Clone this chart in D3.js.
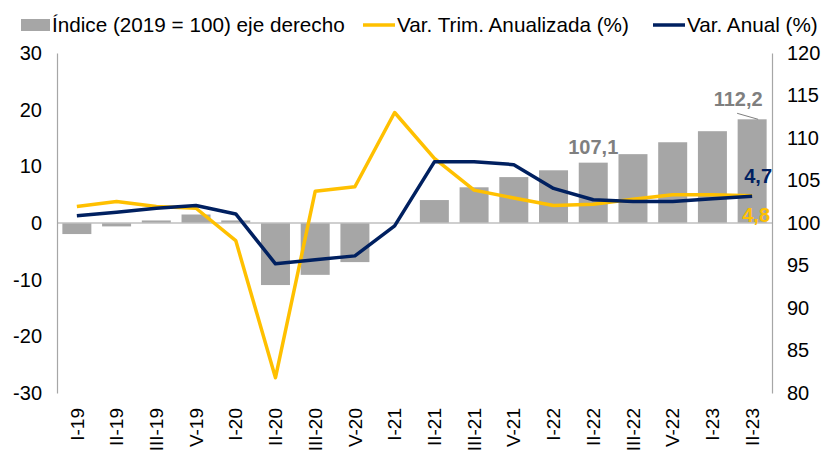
<!DOCTYPE html>
<html>
<head>
<meta charset="utf-8">
<script src="https://cdn.jsdelivr.net/npm/d3@7"></script>
<style>
  body { margin: 0; background: #fff; }
  text { font-family: "Liberation Sans", Arial, sans-serif; }
</style>
</head>
<body>
<div id="chart"></div>
<script>
// Data
const quarters = ["I-19", "II-19", "III-19", "V-19", "I-20", "II-20", "III-20", "V-20",
  "I-21", "II-21", "III-21", "V-21", "I-22", "II-22", "III-22", "V-22", "I-23", "II-23"];
const indice = [98.7, 99.6, 100.3, 101.0, 100.3, 92.7, 93.9, 95.4,
  100.0, 102.7, 104.2, 105.4, 106.2, 107.1, 108.1, 109.5, 110.8, 112.2];
const varTrim = [2.9, 3.8, 2.9, 2.6, -3.1, -27.3, 5.6, 6.4,
  19.5, 11.4, 5.8, 4.4, 3.1, 3.3, 4.2, 5.0, 5.0, 4.8];
const varAnual = [1.3, 1.9, 2.6, 3.1, 1.6, -7.2, -6.5, -5.8,
  -0.5, 10.8, 10.8, 10.3, 6.1, 4.1, 3.8, 3.8, 4.3, 4.7];
const leftTicks = [-30, -20, -10, 0, 10, 20, 30];
const rightTicks = [80, 85, 90, 95, 100, 105, 110, 115, 120];

const yellow = "#FFC000";
const navy = "#002060";
const barGray = "#A6A6A6";
const labelGray = "#7F7F7F";

// Dimensions
const width = 827;
const height = 452;
const margin = { top: 53, right: 55, bottom: 59, left: 57 };
const innerW = width - margin.left - margin.right;
const innerH = height - margin.top - margin.bottom;

const svg = d3.select("#chart")
  .append("svg")
  .attr("width", width)
  .attr("height", height);

const container = svg.append("g")
  .attr("transform", `translate(${margin.left}, ${margin.top})`);

// Scales
const xScale = d3.scaleBand()
  .domain(quarters)
  .range([0, innerW])
  .paddingInner(0.27)
  .paddingOuter(0.135);

const yLeft = d3.scaleLinear().domain([-30, 30]).range([innerH, 0]);
const yRight = d3.scaleLinear().domain([80, 120]).range([innerH, 0]);

// Bars (right axis, based at 100)
container.selectAll(".bar")
  .data(indice)
  .join("rect")
  .attr("class", "bar")
  .attr("x", (d, i) => xScale(quarters[i]))
  .attr("width", xScale.bandwidth())
  .attr("y", (d) => yRight(Math.max(d, 100)))
  .attr("height", (d) => Math.abs(yRight(d) - yRight(100)))
  .attr("fill", barGray);

// Zero line
container.append("line")
  .attr("x1", 0)
  .attr("x2", innerW)
  .attr("y1", yLeft(0))
  .attr("y2", yLeft(0))
  .attr("stroke", "#BFBFBF")
  .attr("stroke-width", 1.5);

// Axes (plain hyphen for negatives, like the original)
const leftAxis = d3.axisLeft(yLeft).tickValues(leftTicks).tickSize(0).tickPadding(15)
  .tickFormat((d) => String(d));
const rightAxis = d3.axisRight(yRight).tickValues(rightTicks).tickSize(0).tickPadding(15)
  .tickFormat((d) => String(d));

const gl = container.append("g").call(leftAxis);
const gr = container.append("g").attr("transform", `translate(${innerW},0)`).call(rightAxis);
[gl, gr].forEach((g) => {
  g.select(".domain").attr("stroke", "#A6A6A6").attr("stroke-width", 1.2);
  g.selectAll("text").style("font-size", "20px").attr("fill", "#000");
});

// X labels
container.append("g")
  .selectAll("text")
  .data(quarters)
  .join("text")
  .attr("transform", (d) => `translate(${xScale(d) + xScale.bandwidth() / 2}, ${innerH + 15}) rotate(-90)`)
  .attr("text-anchor", "end")
  .attr("dy", "0.35em")
  .style("font-size", "19px")
  .text((d) => d);

// Lines
const cx = (i) => xScale(quarters[i]) + xScale.bandwidth() / 2;
const line = d3.line().x((d, i) => cx(i)).y((d) => yLeft(d));

container.append("path")
  .datum(varTrim)
  .attr("d", line)
  .attr("fill", "none")
  .attr("stroke", yellow)
  .attr("stroke-width", 3.5)
  .attr("stroke-linejoin", "round");

container.append("path")
  .datum(varAnual)
  .attr("d", line)
  .attr("fill", "none")
  .attr("stroke", navy)
  .attr("stroke-width", 3.5)
  .attr("stroke-linejoin", "round");

// Annotations
const last = quarters.length - 1;
container.append("text")
  .attr("x", cx(13))
  .attr("y", yRight(indice[13]) - 9)
  .attr("text-anchor", "middle")
  .style("font-size", "20px")
  .style("font-weight", "bold")
  .attr("fill", labelGray)
  .text("107,1");

container.append("text")
  .attr("x", cx(last) - 14)
  .attr("y", yRight(indice[last]) - 13)
  .attr("text-anchor", "middle")
  .style("font-size", "20px")
  .style("font-weight", "bold")
  .attr("fill", labelGray)
  .text("112,2");

container.append("line")
  .attr("x1", cx(last) - 15)
  .attr("y1", yRight(indice[last]) - 6)
  .attr("x2", cx(last) + 6)
  .attr("y2", yRight(indice[last]))
  .attr("stroke", labelGray)
  .attr("stroke-width", 1);

container.append("text")
  .attr("x", cx(last) + 6)
  .attr("y", yLeft(varAnual[last]) - 13)
  .attr("text-anchor", "middle")
  .style("font-size", "20px")
  .style("font-weight", "bold")
  .attr("fill", navy)
  .text("4,7");

container.append("text")
  .attr("x", cx(last) + 4)
  .attr("y", yLeft(varTrim[last]) + 26)
  .attr("text-anchor", "middle")
  .style("font-size", "20px")
  .style("font-weight", "bold")
  .attr("fill", yellow)
  .text("4,8");

// Legend
const legendFont = "20.7px";
const legend = svg.append("g");
legend.append("rect")
  .attr("x", 21).attr("y", 19).attr("width", 29).attr("height", 12)
  .attr("fill", barGray);
legend.append("text")
  .attr("x", 52).attr("y", 25).attr("dy", "0.35em")
  .style("font-size", legendFont)
  .text("Índice (2019 = 100) eje derecho");

legend.append("line")
  .attr("x1", 363).attr("x2", 395).attr("y1", 25).attr("y2", 25)
  .attr("stroke", yellow).attr("stroke-width", 3.5);
legend.append("text")
  .attr("x", 397).attr("y", 25).attr("dy", "0.35em")
  .style("font-size", legendFont)
  .text("Var. Trim. Anualizada (%)");

legend.append("line")
  .attr("x1", 653).attr("x2", 685).attr("y1", 25).attr("y2", 25)
  .attr("stroke", navy).attr("stroke-width", 3.5);
legend.append("text")
  .attr("x", 687).attr("y", 25).attr("dy", "0.35em")
  .style("font-size", legendFont)
  .text("Var. Anual (%)");
</script>
</body>
</html>
